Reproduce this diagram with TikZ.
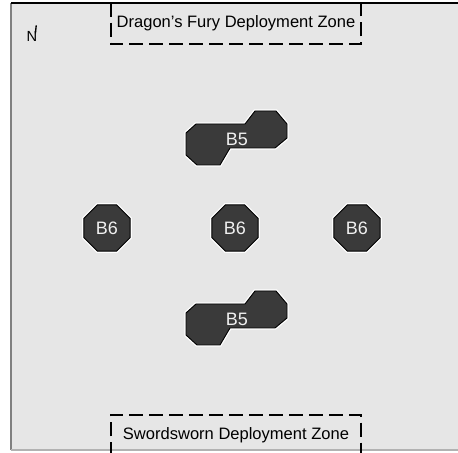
\documentclass[tikz,border=0pt]{standalone}
\usepackage{fontspec}
\setmainfont{Liberation Sans}
\usetikzlibrary{shapes.geometric}
\definecolor{boardgray}{HTML}{E6E6E6}
\definecolor{piecegray}{HTML}{3A3A3A}

\begin{document}
\begin{tikzpicture}[x=0.75pt,y=-0.75pt,
  piece/.style={fill=piecegray,draw=black,line width=0.7pt,preaction={draw=white,line width=2.6pt}},
  tag/.style={text=white!94!black,font=\fontsize{13.5}{15}\selectfont,inner sep=0pt},
  octo/.style={piece,tag,regular polygon,regular polygon sides=8,minimum size=37.5pt},
  zone/.style={draw=black,line width=1.4pt,dash pattern=on 10.5pt off 4.5pt},
  zonebox/.style={minimum width=187.5pt,minimum height=30.75pt,inner sep=0pt,font=\fontsize{12.4}{14}\selectfont}]
  \useasboundingbox (0,0) rectangle (458,453);
  \fill[white] (0,0) rectangle (458,453);
  \fill[boardgray] (11,3) rectangle (458,450);
  \draw[gray,line width=1pt] (11,450) -- (11,3);
  \draw[gray!60,line width=1pt] (11,450) -- (458,450);
  \draw[black,line width=1.3pt] (11,3) -- (458,3);

  \node[zonebox] (dragonzone) at (236,23.5) {Dragon's Fury Deployment Zone};
  \draw[zone] (dragonzone.north west) -- (dragonzone.south west) -- (dragonzone.south east) -- (dragonzone.north east);
  \node[zonebox] (swordzone) at (236,435.5) {Swordsworn Deployment Zone};
  \draw[zone] (swordzone.south west) -- (swordzone.north west) -- (swordzone.north east) -- (swordzone.south east);

  \node[font=\fontsize{11}{12}\selectfont,inner sep=0pt] (north) at (32,36) {N};
  \draw[line width=1pt] ([xshift=-1.6pt,yshift=-2pt]north.north east) -- ++(0.6pt,6pt);

  \draw[piece] (186,133) -- (196,124) -- (245,124) -- (255,111) -- (276,111) -- (287,124) -- (287,138)
    -- (275,148) -- (230,148) -- (220,165) -- (197,165) -- (186,155) -- cycle;
  \node[tag] (b5north) at (237,139) {B5};
  \draw[piece] (186,313) -- (196,304) -- (245,304) -- (255,291) -- (276,291) -- (287,304) -- (287,318)
    -- (275,328) -- (230,328) -- (220,345) -- (197,345) -- (186,335) -- cycle;
  \node[tag] (b5south) at (237,319) {B5};

  \node[octo] (b6west) at (107,228) {B6};
  \node[octo] (b6centre) at (235,228) {B6};
  \node[octo] (b6east) at (357,228) {B6};
\end{tikzpicture}
\end{document}
